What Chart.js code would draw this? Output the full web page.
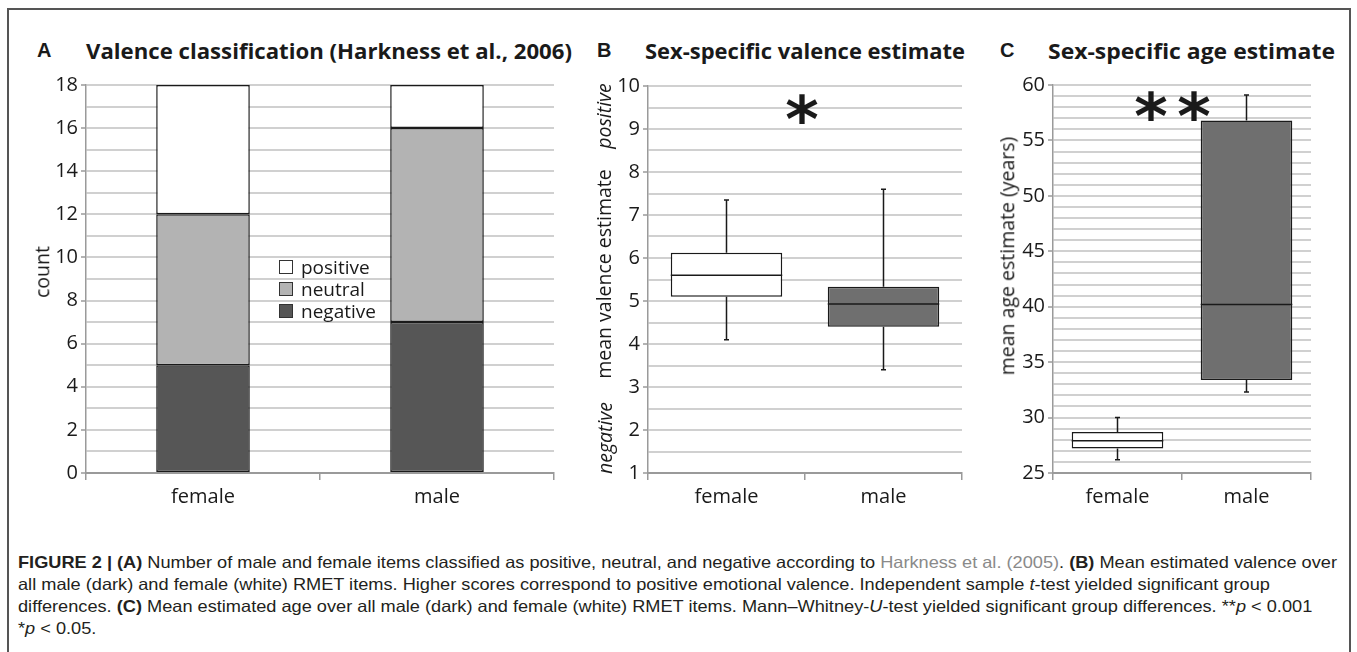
<!DOCTYPE html>
<html><head><meta charset="utf-8">
<script src="https://cdn.jsdelivr.net/npm/chart.js@4.4.0/dist/chart.umd.min.js"></script>
<style>
html,body{margin:0;padding:0;background:#fff;}
body{width:1357px;height:652px;position:relative;overflow:hidden;font-family:"Open Sans",sans-serif;color:#1a1a1a;}
.frame{position:absolute;left:7px;top:8px;width:1344px;height:720px;border:2px solid #555;box-sizing:border-box;}
canvas{position:absolute;}
.abs{position:absolute;white-space:nowrap;line-height:1;}
.letter{font-family:"Liberation Sans",Arial,sans-serif;font-weight:bold;font-size:20px;transform:translateY(-50%);}
.title{font-family:"Open Sans",sans-serif;font-weight:bold;font-size:22px;transform-origin:left center;}
.ytitle{font-size:19.5px;transform:translate(-50%,-50%) rotate(-90deg);}
.star{font-family:"DejaVu Sans",sans-serif;font-weight:bold;font-size:64px;transform:translate(-50%,-50%);}
.legend{position:absolute;left:279px;top:256px;font-size:19px;line-height:22px;}
.legend .row{display:flex;align-items:center;height:22px;}
.legend .box{width:12px;height:12px;border:1px solid #333;margin-right:8px;}
.cap{position:absolute;left:18px;font-family:"Liberation Sans",Arial,sans-serif;font-size:16.5px;line-height:1;white-space:nowrap;color:#231f20;transform-origin:left center;}
.cap b{font-weight:bold;}
.cap .link{color:#8a8a8a;}
</style>
</head>
<body>
<div class="frame"></div>

<div class="abs letter" style="left:37px;top:50px;">A</div>
<div class="abs title" id="tA" style="left:86px;top:50px;">Valence classification (Harkness et al., 2006)</div>
<div class="abs letter" style="left:597px;top:50px;">B</div>
<div class="abs title" id="tB" style="left:645px;top:50px;">Sex-specific valence estimate</div>
<div class="abs letter" style="left:1000px;top:50px;">C</div>
<div class="abs title" id="tC" style="left:1048px;top:50px;">Sex-specific age estimate</div>

<canvas id="chartA" width="550" height="450" style="left:20px;top:70px;"></canvas>
<canvas id="chartB" width="372" height="450" style="left:600px;top:70px;"></canvas>
<canvas id="chartC" width="316" height="450" style="left:1005px;top:70px;"></canvas>

<div class="abs ytitle" style="left:42px;top:272px;">count</div>
<div class="abs ytitle" style="left:604px;top:116px;font-style:italic;">positive</div>
<div class="abs ytitle" style="left:604px;top:274px;">mean valence estimate</div>
<div class="abs ytitle" style="left:605px;top:438px;font-style:italic;">negative</div>
<div class="abs ytitle" style="left:1007px;top:256px;">mean age estimate (years)</div>

<div class="legend" id="legendA"></div>

<div class="abs star" style="left:802px;top:120px;">*</div>
<div class="abs star" style="left:1151px;top:117px;">*</div>
<div class="abs star" style="left:1194px;top:117px;">*</div>

<div class="cap" id="cap1" style="top:562px;"><b>FIGURE 2 | (A)</b> Number of male and female items classified as positive, neutral, and negative according to <span class="link">Harkness et al. (2005)</span>. <b>(B)</b> Mean estimated valence over</div>
<div class="cap" id="cap2" style="top:584px;">all male (dark) and female (white) RMET items. Higher scores correspond to positive emotional valence. Independent sample <i>t</i>-test yielded significant group</div>
<div class="cap" id="cap3" style="top:606px;">differences. <b>(C)</b> Mean estimated age over all male (dark) and female (white) RMET items. Mann–Whitney-<i>U</i>-test yielded significant group differences. **<i>p</i> &lt; 0.001</div>
<div class="cap" id="cap4" style="top:628px;">*<i>p</i> &lt; 0.05.</div>

<script>
// ---------- DATA ----------
const categories = ['female', 'male'];

// Panel A: counts of items per valence class
const countNegative = [5, 7];
const countNeutral  = [7, 9];
const countPositive = [6, 2];
const countTickLabels = [0, 2, 4, 6, 8, 10, 12, 14, 16, 18];

// Panel B: mean valence estimate (box plot)
const valenceMin    = [4.1, 3.4];
const valenceQ1     = [5.1, 4.4];
const valenceMedian = [5.6, 4.93];
const valenceQ3     = [6.12, 5.33];
const valenceMax    = [7.35, 7.6];
const valenceTickLabels = [1, 2, 3, 4, 5, 6, 7, 8, 9, 10];

// Panel C: mean age estimate (box plot)
const ageMin    = [26.2, 32.3];
const ageQ1     = [27.2, 33.4];
const ageMedian = [27.9, 40.2];
const ageQ3     = [28.7, 56.8];
const ageMax    = [30.0, 59.1];
const ageTickLabels = [25, 30, 35, 40, 45, 50, 55, 60];

// ---------- STYLE ----------
const INK = '#1a1a1a';
const GRID = '#d0d0d0';
const AXIS = '#9a9a9a';
const boxColors = ['#ffffff', '#6f6f6f'];
const FONT = {family: 'Open Sans', size: 20};

Chart.defaults.font.family = 'Open Sans';
Chart.defaults.color = INK;

function yAxis(min, max, step, labels, width) {
  return {
    min: min, max: max,
    ticks: {
      stepSize: step, autoSkip: false, maxTicksLimit: 200, color: INK, font: FONT, padding: 3,
      callback: (v) => labels.includes(v) ? String(v) : ''
    },
    grid: {
      color: GRID, lineWidth: 2, drawTicks: true, tickLength: 5, tickWidth: 1.5,
      tickColor: (c) => (c.tick && labels.includes(c.tick.value)) ? AXIS : 'rgba(0,0,0,0)'
    },
    border: {color: AXIS, width: 1.5},
    afterFit: (s) => { s.width = width; }
  };
}
function xAxis(height, stacked) {
  return {
    type: 'category', offset: true, stacked: !!stacked,
    ticks: {color: INK, font: FONT, padding: 5},
    grid: {offset: true, drawOnChartArea: false, drawTicks: true, tickLength: 7, tickColor: AXIS, lineWidth: 1.5},
    border: {color: AXIS, width: 2},
    afterFit: (s) => { s.height = height; }
  };
}
const basePlugins = {legend: {display: false}, tooltip: {enabled: false}};

// ---------- PANEL A ----------
const dsA = [
  {label: 'negative', data: countNegative, backgroundColor: '#565656'},
  {label: 'neutral',  data: countNeutral,  backgroundColor: '#b3b3b3'},
  {label: 'positive', data: countPositive, backgroundColor: '#ffffff'}
].map(d => Object.assign(d, {borderColor: INK, borderWidth: 1.5, borderSkipped: false, barPercentage: 0.4, categoryPercentage: 1}));

new Chart(document.getElementById('chartA'), {
  type: 'bar',
  data: {labels: categories, datasets: dsA},
  options: {
    responsive: false, animation: false,
    layout: {padding: {top: 15, right: 16, left: 0, bottom: 0}},
    scales: {
      x: xAxis(47, true),
      y: Object.assign(yAxis(0, 18, 1, countTickLabels, 66), {stacked: true})
    },
    plugins: basePlugins
  }
});

// HTML legend built from the datasets (reverse stack order, as in the figure)
const leg = document.getElementById('legendA');
dsA.slice().reverse().forEach(d => {
  const row = document.createElement('div'); row.className = 'row';
  const b = document.createElement('span'); b.className = 'box'; b.style.background = d.backgroundColor;
  const t = document.createElement('span'); t.textContent = d.label;
  row.appendChild(b); row.appendChild(t); leg.appendChild(row);
});

// ---------- BOX PLOT helper ----------
function boxPlugin(mins, medians, maxs, q1s, q3s) {
  return {
    id: 'boxWhisker',
    afterDatasetsDraw(chart) {
      const ctx = chart.ctx, y = chart.scales.y;
      const meta = chart.getDatasetMeta(0);
      ctx.save();
      ctx.strokeStyle = INK; ctx.lineWidth = 1.5;
      meta.data.forEach((el, i) => {
        const x = el.x, half = el.width / 2, cap = 2.5;
        const yMed = y.getPixelForValue(medians[i]);
        const yQ1 = y.getPixelForValue(q1s[i]), yQ3 = y.getPixelForValue(q3s[i]);
        const yMin = y.getPixelForValue(mins[i]), yMax = y.getPixelForValue(maxs[i]);
        ctx.beginPath();
        ctx.moveTo(x - half, yMed); ctx.lineTo(x + half, yMed);
        ctx.moveTo(x, yQ3); ctx.lineTo(x, yMax);
        ctx.moveTo(x - cap, yMax); ctx.lineTo(x + cap, yMax);
        ctx.moveTo(x, yQ1); ctx.lineTo(x, yMin);
        ctx.moveTo(x - cap, yMin); ctx.lineTo(x + cap, yMin);
        ctx.stroke();
      });
      ctx.restore();
    }
  };
}
function boxDataset(q1s, q3s) {
  return [{
    label: 'box', data: categories.map((_, i) => [q1s[i], q3s[i]]),
    backgroundColor: boxColors, borderColor: INK, borderWidth: 1.5, borderSkipped: false,
    barPercentage: 0.71, categoryPercentage: 1
  }];
}

// ---------- PANEL B ----------
new Chart(document.getElementById('chartB'), {
  type: 'bar',
  data: {labels: categories, datasets: boxDataset(valenceQ1, valenceQ3)},
  options: {
    responsive: false, animation: false,
    layout: {padding: {top: 16, right: 10, left: 0, bottom: 0}},
    scales: {x: xAxis(47), y: yAxis(1, 10, 0.5, valenceTickLabels, 48)},
    plugins: basePlugins
  },
  plugins: [boxPlugin(valenceMin, valenceMedian, valenceMax, valenceQ1, valenceQ3)]
});

// ---------- PANEL C ----------
new Chart(document.getElementById('chartC'), {
  type: 'bar',
  data: {labels: categories, datasets: boxDataset(ageQ1, ageQ3)},
  options: {
    responsive: false, animation: false,
    layout: {padding: {top: 15, right: 10, left: 0, bottom: 0}},
    scales: {x: xAxis(47), y: yAxis(25, 60, 1, ageTickLabels, 48)},
    plugins: basePlugins
  },
  plugins: [boxPlugin(ageMin, ageMedian, ageMax, ageQ1, ageQ3)]
});

// ---------- text fitting (horizontal condensing to the figure's widths) ----------
function fitScale(id, target) {
  const el = document.getElementById(id);
  const w = el.getBoundingClientRect().width;
  el.style.transform = 'translateY(-50%) scaleX(' + (target / w) + ')';
}
fitScale('tA', 486); fitScale('tB', 320); fitScale('tC', 287);

(function () {
  const c1 = document.getElementById('cap1');
  const s = 1319 / c1.getBoundingClientRect().width;
  ['cap1', 'cap2', 'cap3', 'cap4'].forEach(id => {
    document.getElementById(id).style.transform = 'translateY(-50%) scaleX(' + s + ')';
  });
})();
</script>
</body></html>
